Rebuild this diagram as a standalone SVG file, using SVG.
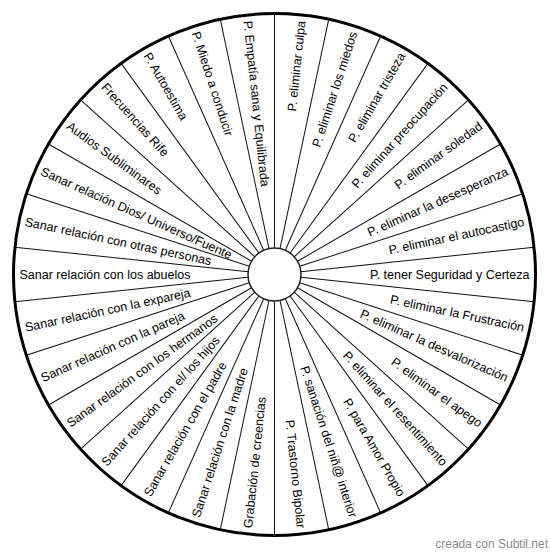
<svg xmlns="http://www.w3.org/2000/svg" width="550" height="559" viewBox="0 0 550 559">
<style>
.lbl{font-family:"Liberation Sans",Arial,sans-serif;font-size:12.5px;fill:#000}
.r{text-anchor:end}
.l{text-anchor:start}
.sp{stroke:#111;stroke-width:1;fill:none}
.wm{font-family:"Liberation Sans",Arial,sans-serif;font-size:12px;fill:#8c8c8c;text-anchor:end}
</style>
<defs>
<line id="spoke" x1="301" y1="274.5" x2="535.5" y2="274.5"/>
</defs>
<rect width="550" height="559" fill="#fff"/>
<circle cx="274.5" cy="274.5" r="261" fill="#fff" stroke="none"/>
<g id="connectors" class="sp">
<use href="#spoke" transform="rotate(6 274.5 274.5)"/>
<use href="#spoke" transform="rotate(18 274.5 274.5)"/>
<use href="#spoke" transform="rotate(30 274.5 274.5)"/>
<use href="#spoke" transform="rotate(42 274.5 274.5)"/>
<use href="#spoke" transform="rotate(54 274.5 274.5)"/>
<use href="#spoke" transform="rotate(66 274.5 274.5)"/>
<use href="#spoke" transform="rotate(78 274.5 274.5)"/>
<use href="#spoke" transform="rotate(90 274.5 274.5)"/>
<use href="#spoke" transform="rotate(102 274.5 274.5)"/>
<use href="#spoke" transform="rotate(114 274.5 274.5)"/>
<use href="#spoke" transform="rotate(126 274.5 274.5)"/>
<use href="#spoke" transform="rotate(138 274.5 274.5)"/>
<use href="#spoke" transform="rotate(150 274.5 274.5)"/>
<use href="#spoke" transform="rotate(162 274.5 274.5)"/>
<use href="#spoke" transform="rotate(174 274.5 274.5)"/>
<use href="#spoke" transform="rotate(186 274.5 274.5)"/>
<use href="#spoke" transform="rotate(198 274.5 274.5)"/>
<use href="#spoke" transform="rotate(210 274.5 274.5)"/>
<use href="#spoke" transform="rotate(222 274.5 274.5)"/>
<use href="#spoke" transform="rotate(234 274.5 274.5)"/>
<use href="#spoke" transform="rotate(246 274.5 274.5)"/>
<use href="#spoke" transform="rotate(258 274.5 274.5)"/>
<use href="#spoke" transform="rotate(270 274.5 274.5)"/>
<use href="#spoke" transform="rotate(282 274.5 274.5)"/>
<use href="#spoke" transform="rotate(294 274.5 274.5)"/>
<use href="#spoke" transform="rotate(306 274.5 274.5)"/>
<use href="#spoke" transform="rotate(318 274.5 274.5)"/>
<use href="#spoke" transform="rotate(330 274.5 274.5)"/>
<use href="#spoke" transform="rotate(342 274.5 274.5)"/>
<use href="#spoke" transform="rotate(354 274.5 274.5)"/>
</g>
<circle id="outer" cx="274.5" cy="274.5" r="261" fill="none" stroke="#000" stroke-width="3"/>
<circle id="hub" cx="274.5" cy="274.5" r="26.5" fill="#fff" stroke="#222" stroke-width="1.5"/>
<g id="n0" transform="rotate(0 274.5 274.5)"><text class="lbl r" x="529.5" y="278.8">P. tener Seguridad y Certeza</text></g>
<g id="n1" transform="rotate(12 274.5 274.5)"><text class="lbl r" x="529.5" y="278.8">P. eliminar la Frustración</text></g>
<g id="n2" transform="rotate(24 274.5 274.5)"><text class="lbl r" x="529.5" y="278.8">P. eliminar la desvalorización</text></g>
<g id="n3" transform="rotate(36 274.5 274.5)"><text class="lbl r" x="529.5" y="278.8">P. eliminar el apego</text></g>
<g id="n4" transform="rotate(48 274.5 274.5)"><text class="lbl r" x="529.5" y="278.8">P. eliminar el resentimiento</text></g>
<g id="n5" transform="rotate(60 274.5 274.5)"><text class="lbl r" x="529.5" y="278.8">P. para Amor Propio</text></g>
<g id="n6" transform="rotate(72 274.5 274.5)"><text class="lbl r" x="529.5" y="278.8">P. sanación del niñ@ interior</text></g>
<g id="n7" transform="rotate(84 274.5 274.5)"><text class="lbl r" x="529.5" y="278.8">P. Trastorno Bipolar</text></g>
<g id="n8" transform="rotate(-84 274.5 274.5)"><text class="lbl l" x="19.5" y="278.8">Grabación de creencias</text></g>
<g id="n9" transform="rotate(-72 274.5 274.5)"><text class="lbl l" x="19.5" y="278.8">Sanar relación con la madre</text></g>
<g id="n10" transform="rotate(-60 274.5 274.5)"><text class="lbl l" x="19.5" y="278.8">Sanar relación con el padre</text></g>
<g id="n11" transform="rotate(-48 274.5 274.5)"><text class="lbl l" x="19.5" y="278.8">Sanar relación con el/ los hijos</text></g>
<g id="n12" transform="rotate(-36 274.5 274.5)"><text class="lbl l" x="19.5" y="278.8">Sanar relación con los hermanos</text></g>
<g id="n13" transform="rotate(-24 274.5 274.5)"><text class="lbl l" x="19.5" y="278.8">Sanar relación con la pareja</text></g>
<g id="n14" transform="rotate(-12 274.5 274.5)"><text class="lbl l" x="19.5" y="278.8">Sanar relación con la expareja</text></g>
<g id="n15" transform="rotate(0 274.5 274.5)"><text class="lbl l" x="19.5" y="278.8">Sanar relación con los abuelos</text></g>
<g id="n16" transform="rotate(12 274.5 274.5)"><text class="lbl l" x="19.5" y="278.8">Sanar relación con otras personas</text></g>
<g id="n17" transform="rotate(24 274.5 274.5)"><text class="lbl l" x="19.5" y="278.8">Sanar relación Dios/ Universo/Fuente</text></g>
<g id="n18" transform="rotate(36 274.5 274.5)"><text class="lbl l" x="19.5" y="278.8">Audios Subliminares</text></g>
<g id="n19" transform="rotate(48 274.5 274.5)"><text class="lbl l" x="19.5" y="278.8">Frecuencias Rife</text></g>
<g id="n20" transform="rotate(60 274.5 274.5)"><text class="lbl l" x="19.5" y="278.8">P. Autoestima</text></g>
<g id="n21" transform="rotate(72 274.5 274.5)"><text class="lbl l" x="19.5" y="278.8">P. Miedo a conducir</text></g>
<g id="n22" transform="rotate(84 274.5 274.5)"><text class="lbl l" x="19.5" y="278.8">P. Empatía sana y Equilibrada</text></g>
<g id="n23" transform="rotate(-84 274.5 274.5)"><text class="lbl r" x="529.5" y="278.8">P. eliminar culpa</text></g>
<g id="n24" transform="rotate(-72 274.5 274.5)"><text class="lbl r" x="529.5" y="278.8">P. eliminar los miedos</text></g>
<g id="n25" transform="rotate(-60 274.5 274.5)"><text class="lbl r" x="529.5" y="278.8">P. eliminar tristeza</text></g>
<g id="n26" transform="rotate(-48 274.5 274.5)"><text class="lbl r" x="529.5" y="278.8">P. eliminar preocupación</text></g>
<g id="n27" transform="rotate(-36 274.5 274.5)"><text class="lbl r" x="529.5" y="278.8">P. eliminar soledad</text></g>
<g id="n28" transform="rotate(-24 274.5 274.5)"><text class="lbl r" x="529.5" y="278.8">P. eliminar la desesperanza</text></g>
<g id="n29" transform="rotate(-12 274.5 274.5)"><text class="lbl r" x="529.5" y="278.8">P. eliminar el autocastigo</text></g>
<text class="wm" x="548" y="548">creada con Subtil.net</text>
</svg>
